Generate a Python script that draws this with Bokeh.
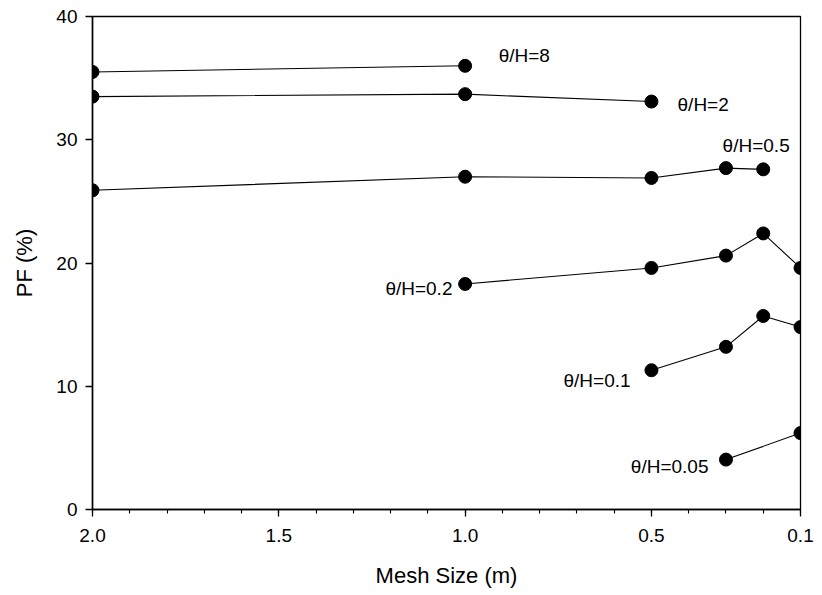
from bokeh.plotting import figure
from bokeh.models import Range1d, FixedTicker, NumeralTickFormatter, ColumnDataSource
from bokeh.embed import file_html
from bokeh.resources import INLINE
from bokeh.core.properties import value

# Data (mesh size in m, PF in %)
x_8 = [2.0, 1.0]
y_8 = [35.5, 36.0]
x_2 = [2.0, 1.0, 0.5]
y_2 = [33.5, 33.7, 33.1]
x_05 = [2.0, 1.0, 0.5, 0.3, 0.2]
y_05 = [25.9, 27.0, 26.9, 27.7, 27.6]
x_02 = [1.0, 0.5, 0.3, 0.2, 0.1]
y_02 = [18.3, 19.6, 20.6, 22.4, 19.6]
x_01 = [0.5, 0.3, 0.2, 0.1]
y_01 = [11.3, 13.2, 15.7, 14.8]
x_005 = [0.3, 0.1]
y_005 = [4.05, 6.2]

series = [(x_8, y_8), (x_2, y_2), (x_05, y_05), (x_02, y_02), (x_01, y_01), (x_005, y_005)]

label_text = ["θ/H=8", "θ/H=2", "θ/H=0.5", "θ/H=0.2", "θ/H=0.1", "θ/H=0.05"]
label_x = [0.91, 0.43, 0.309, 1.034, 0.556, 0.347]
label_y = [36.8, 32.9, 29.5, 17.9, 10.5, 3.5]
label_align = ["left", "left", "left", "right", "right", "right"]

x_major = [2.0, 1.5, 1.0, 0.5, 0.1]
x_minor = [round(0.1 * i, 1) for i in range(1, 21)]
y_major = [0, 10, 20, 30, 40]

FONT = "Liberation Sans"

p = figure(width=822, height=595, output_backend="svg", toolbar_location=None,
           x_range=Range1d(2.0, 0.1), y_range=Range1d(0, 40),
           min_border_left=92, min_border_right=22, min_border_top=16, min_border_bottom=86)
p.background_fill_color = "white"
p.border_fill_color = "white"
p.outline_line_color = "black"
p.outline_line_width = 1.3
p.grid.visible = False

for xs, ys in series:
    p.line(xs, ys, line_color="black", line_width=1.1)
    p.scatter(xs, ys, size=13, fill_color="black", line_color="black")

src = ColumnDataSource(dict(x=label_x, y=label_y, t=label_text, a=label_align))
p.text(x="x", y="y", text="t", text_align="a", text_baseline="middle", source=src,
       text_font=value(FONT), text_font_size="19px", text_color="black")

xa = p.xaxis[0]
xa.ticker = FixedTicker(ticks=x_major, minor_ticks=x_minor)
xa.formatter = NumeralTickFormatter(format="0.0")
xa.axis_label = "Mesh Size (m)"
ya = p.yaxis[0]
ya.ticker = FixedTicker(ticks=y_major)
ya.axis_label = "PF (%)"

for ax in (xa, ya):
    ax.axis_line_color = "black"
    ax.axis_line_width = 1.5
    ax.major_tick_line_color = "black"
    ax.minor_tick_line_color = "black"
    ax.major_tick_line_width = 1.3
    ax.minor_tick_line_width = 1.1
    ax.major_tick_out = 7
    ax.major_tick_in = 0
    ax.minor_tick_in = 0
    ax.major_label_text_font = FONT
    ax.major_label_text_font_size = "19px"
    ax.major_label_text_color = "black"
    ax.axis_label_text_font = FONT
    ax.axis_label_text_font_size = "22px"
    ax.axis_label_text_font_style = "normal"
    ax.axis_label_text_color = "black"

xa.minor_tick_out = 4
ya.minor_tick_out = 0
xa.major_label_standoff = 12
ya.major_label_standoff = 8
xa.axis_label_standoff = 18
ya.axis_label_standoff = 16

open("out.html", "w").write(file_html(p, INLINE))
